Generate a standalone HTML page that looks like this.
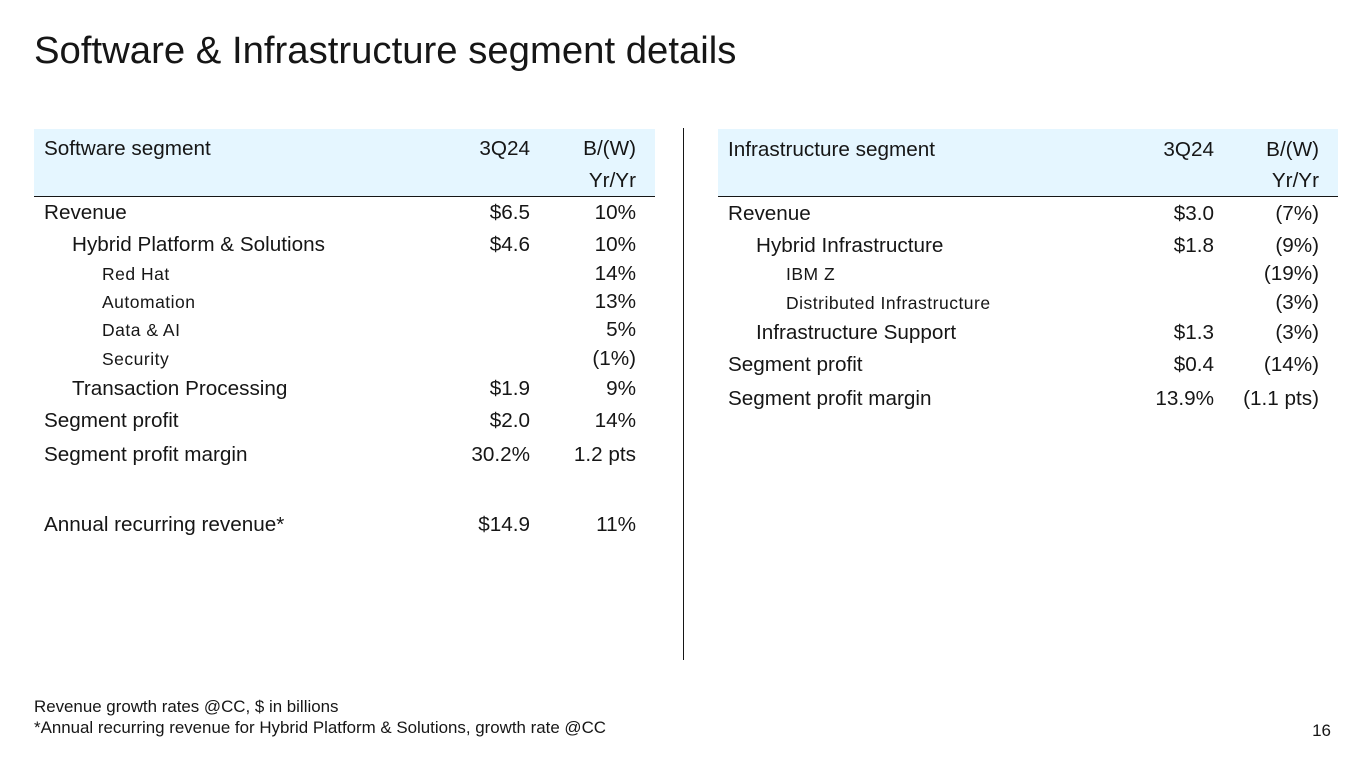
<!DOCTYPE html>
<html><head><meta charset="utf-8"><style>
body{margin:0;width:1365px;height:768px;background:#fff;font-family:"Liberation Sans",sans-serif;color:#161616;position:relative;overflow:hidden}
.a{position:absolute;white-space:nowrap;line-height:24px;height:24px}
.r{text-align:right}
.m{font-size:20.7px}
.s{font-size:17.5px;letter-spacing:0.5px}
.band{position:absolute;background:#e5f6ff;top:129px;height:67px;border-bottom:1px solid #161616}
</style></head><body>
<div class="a" style="left:34px;top:28px;font-size:38.3px;line-height:46px;height:46px;font-weight:300">Software &amp; Infrastructure segment details</div>

<div class="band" style="left:34px;width:621px"></div>
<div class="band" style="left:718px;width:620px"></div>
<div style="position:absolute;left:683px;top:128px;width:1px;height:532px;background:#161616"></div>

<div class="a" style="left:34px;top:695px;font-size:16.9px">Revenue growth rates @CC, $ in billions</div>
<div class="a" style="left:34px;top:716px;font-size:16.9px">*Annual recurring revenue for Hybrid Platform &amp; Solutions, growth rate @CC</div>
<div class="a r" style="left:1280px;width:51px;top:719px;font-size:17px">16</div>

<script>
function put(x,y,w,txt,cls,name,right){
  const d=document.createElement('div');
  d.className='a '+cls+(right?' r':'');
  d.style.left=x+'px';d.style.top=(y-10)+'px';
  if(w)d.style.width=w+'px';
  d.textContent=txt;
  
  
  document.body.appendChild(d);
}
const leftRows=[
 ['Software segment','3Q24','B/(W)',147,0,'m'],
 ['','','Yr/Yr',179,0,'m'],
 ['Revenue','$6.5','10%',211,0,'m'],
 ['Hybrid Platform & Solutions','$4.6','10%',243,1,'m'],
 ['Red Hat','','14%',272,2,'s'],
 ['Automation','','13%',300,2,'s'],
 ['Data & AI','','5%',328,2,'s'],
 ['Security','','(1%)',357,2,'s'],
 ['Transaction Processing','$1.9','9%',387,1,'m'],
 ['Segment profit','$2.0','14%',419,0,'m'],
 ['Segment profit margin','30.2%','1.2 pts',453,0,'m'],
 ['Annual recurring revenue*','$14.9','11%',523,0,'m']
];
const rightRows=[
 ['Infrastructure segment','3Q24','B/(W)',148,0,'m'],
 ['','','Yr/Yr',179,0,'m'],
 ['Revenue','$3.0','(7%)',212,0,'m'],
 ['Hybrid Infrastructure','$1.8','(9%)',244,1,'m'],
 ['IBM Z','','(19%)',272,2,'s'],
 ['Distributed Infrastructure','','(3%)',301,2,'s'],
 ['Infrastructure Support','$1.3','(3%)',331,1,'m'],
 ['Segment profit','$0.4','(14%)',363,0,'m'],
 ['Segment profit margin','13.9%','(1.1 pts)',397,0,'m']
];
function table(rows,x0,c1,c2,prefix){
  rows.forEach((r,i)=>{
    const ind=[0,28,58][r[4]];
    if(r[0])put(x0+ind,r[3],0,r[0],r[5],prefix+'-label-'+i,false);
    if(r[1])put(c1-130,r[3],130,r[1],'m',prefix+'-3q24-'+i,true);
    if(r[2])put(c2-130,r[3],130,r[2],'m',prefix+'-bw-'+i,true);
  });
}
table(leftRows,44,530,636,'software');
table(rightRows,728,1214,1319,'infrastructure');
</script>
</body></html>
